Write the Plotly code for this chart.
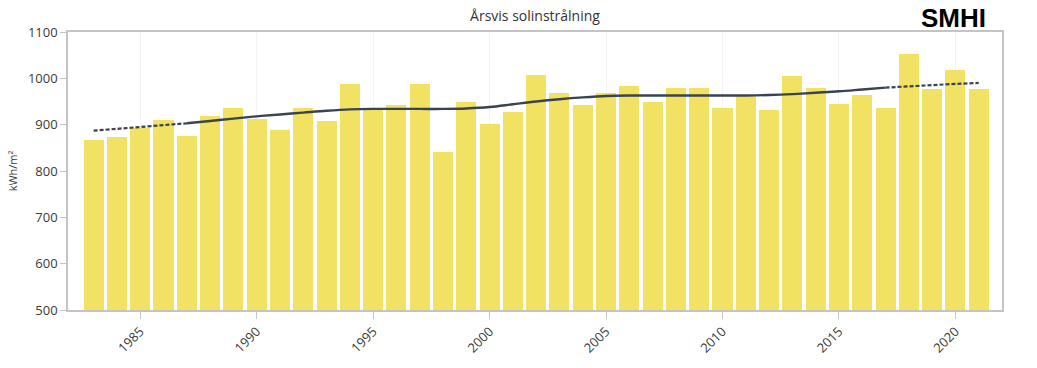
import plotly.graph_objects as go

years = list(range(1983, 2022))
radiation = [867, 873, 892, 911, 876, 918, 936, 912, 889, 937,
             908, 987, 936, 942, 988, 840, 949, 901, 927, 1007,
             968, 942, 969, 983, 950, 979, 979, 937, 961, 932,
             1006, 980, 945, 965, 935, 1053, 978, 1017, 978]
trend = [887, 891, 895, 899, 903, 908, 913, 918, 922, 926,
         930, 933, 934, 934, 934, 934, 935, 938, 944, 950,
         955, 959, 962, 963, 963, 963, 963, 963, 963, 964,
         966, 969, 972, 976, 980, 983, 986, 988, 990]
tick_years = [1985, 1990, 1995, 2000, 2005, 2010, 2015, 2020]

title_text = "Årsvis solinstrålning"
y_label = "kWh/m²"
logo_text = "SMHI"

bar_color = "#F1E263"
line_color = "#3b4352"
font_family = "Open Sans, Noto Sans, DejaVu Sans, sans-serif"

i0 = years.index(1987)
i1 = years.index(2017)

fig = go.Figure()
fig.add_trace(go.Bar(x=years, y=radiation, width=0.86,
                     marker=dict(color=bar_color, line=dict(width=0)),
                     showlegend=False))
fig.add_trace(go.Scatter(x=years[:i0 + 1], y=trend[:i0 + 1], mode="lines",
                         line=dict(color=line_color, width=2.2, dash="4px,2px"),
                         showlegend=False))
fig.add_trace(go.Scatter(x=years[i0:i1 + 1], y=trend[i0:i1 + 1], mode="lines",
                         line=dict(color=line_color, width=2.4, shape="spline"),
                         showlegend=False))
fig.add_trace(go.Scatter(x=years[i1:], y=trend[i1:], mode="lines",
                         line=dict(color=line_color, width=2.2, dash="4px,2px"),
                         showlegend=False))

fig.update_layout(
    width=1037, height=368,
    margin=dict(l=67, r=35, t=32, b=55),
    paper_bgcolor="white", plot_bgcolor="white",
    font=dict(family=font_family, size=13, color="#3a3a3a"),
    title=dict(text=title_text, x=0.5159, xanchor="center", y=0.955, yanchor="middle",
               font=dict(size=14, color="#333333")),
    bargap=0,
    xaxis=dict(range=[1981.9, 2022.0], tickvals=tick_years, ticktext=[str(t) for t in tick_years],
               tickangle=-45, showline=True, linecolor="#c4c4c4", linewidth=1.5, mirror=True,
               ticks="outside", ticklen=7, tickcolor="#c4c4c4", showgrid=True,
               gridcolor="#f3f3f3", zeroline=False, tickfont=dict(size=13)),
    yaxis=dict(range=[500, 1100], dtick=100, showline=True, linecolor="#c4c4c4", linewidth=1.5,
               mirror=True, ticks="outside", ticklen=6, tickcolor="#c4c4c4", showgrid=False,
               zeroline=False, tickfont=dict(size=13),
               title=dict(text=y_label, font=dict(size=11), standoff=8)),
    annotations=[dict(text="<b>" + logo_text + "</b>", xref="paper", yref="paper",
                      x=0.984, y=1.107, xanchor="right", yanchor="top", showarrow=False,
                      borderpad=0,
                      font=dict(family="Liberation Sans Narrow, Arial Narrow, sans-serif",
                                size=26, color="#000000"))],
)

fig.write_html("out.html")
